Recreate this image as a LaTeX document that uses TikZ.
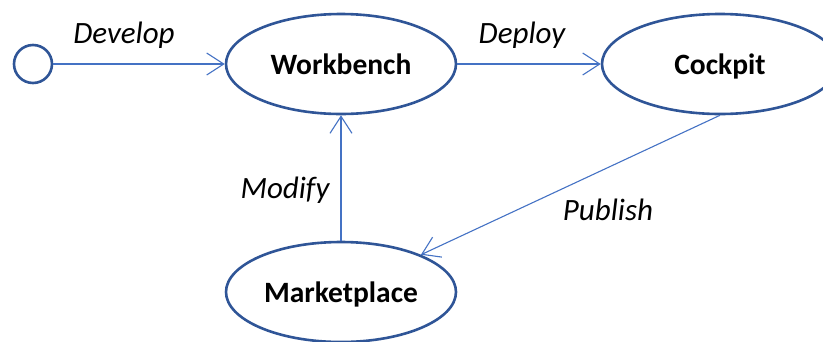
\documentclass[tikz,border=0pt]{standalone}
\usepackage{fontspec}
\setmainfont{Carlito}
\usetikzlibrary{shapes.geometric,arrows.meta}
\definecolor{rim}{HTML}{2F5597}
\definecolor{link}{HTML}{4472C4}
\tikzset{
  state/.style={ellipse, draw=rim, line width=2.6pt, minimum width=230pt, minimum height=100pt,
    font=\fontsize{29.5}{31}\selectfont\bfseries, inner sep=0pt, text depth=0pt},
  start/.style={circle, draw=rim, line width=2.6pt, minimum size=38pt, inner sep=0pt},
  flow/.style={draw=link, line width=1.1pt, -{Straight Barb[length=17pt,width=22pt,line width=1.1pt]}},
  tag/.style={font=\fontsize{31}{33}\selectfont\itshape, inner sep=0pt}
}
\begin{document}
\begin{tikzpicture}[x=1pt,y=-1pt]
  \useasboundingbox (0,0) rectangle (823,341);
  \node[start] (init) at (33,64) {};
  \node[state] (wb) at (341,64) {Workbench};
  \node[state, minimum width=236pt] (cp) at (720,64) {Cockpit};
  \node[state] (mp) at (341,292) {Marketplace};
  \draw[flow] (init) -- (wb);
  \draw[flow] (wb) -- (cp);
  \draw[flow] (mp) -- (wb);
  \draw[flow] (cp.south) -- (mp);
  \node[tag] (l1) at (124,35) {Develop};
  \node[tag] (l2) at (522,35) {Deploy};
  \node[tag] (l3) at (285,190) {Modify};
  \node[tag] (l4) at (608,210) {Publish};
\end{tikzpicture}
\end{document}
